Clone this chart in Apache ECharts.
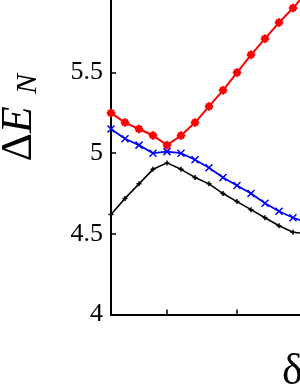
<!DOCTYPE html>
<html>
<head>
<meta charset="utf-8">
<script src="https://cdn.jsdelivr.net/npm/echarts@6/dist/echarts.min.js"></script>
<style>
html,body{margin:0;padding:0;background:#fff;}
#c{width:300px;height:388px;}
</style>
</head>
<body>
<div id="c"></div>
<script>
const deltaValues = [-0.8,-0.6,-0.4,-0.2,0.0,0.2,0.4,0.6,0.8,1.0,1.2,1.4,1.6,1.8,2.0];
const redValues   = [5.25,5.19,5.15,5.11,5.05,5.11,5.19,5.29,5.39,5.50,5.61,5.71,5.81,5.90,6.00];
const blueValues  = [5.15,5.09,5.05,5.00,5.01,5.00,4.96,4.91,4.85,4.80,4.75,4.69,4.64,4.60,4.57];
const blackValues = [4.62,4.72,4.81,4.90,4.94,4.90,4.85,4.81,4.75,4.70,4.65,4.60,4.55,4.51,4.50];
const xTickValues = [0, 1];
const yTickLabels = ['4','4.5','5','5.5'];

function pairs(ys){ return deltaValues.map((x,i)=>[x, ys[i]]); }

const serif = 'Liberation Serif';
const chart = echarts.init(document.getElementById('c'), null, {renderer:'canvas'});
chart.setOption({
  animation:false,
  backgroundColor:'#fff',
  textStyle:{fontFamily:serif},
  grid:{left:111, right:0, top:0, bottom:73.5, containLabel:false},
  xAxis:{
    type:'value', min:-0.8, max:1.9,
    axisLine:{show:true, lineStyle:{color:'#000', width:2}},
    axisTick:{show:true, inside:true, length:5, lineStyle:{color:'#000', width:1.5}, customValues:xTickValues},
    axisLabel:{show:false},
    splitLine:{show:false}
  },
  yAxis:{
    type:'value', min:4, max:5.95, interval:0.5,
    axisLine:{show:true, onZero:false, lineStyle:{color:'#000', width:2}},
    axisTick:{show:true, inside:true, length:5, lineStyle:{color:'#000', width:1.5}},
    axisLabel:{
      show:true, margin:8, color:'#000', fontFamily:serif, fontSize:26,
      showMaxLabel:false,
      formatter:function(v){ const s = String(v); return yTickLabels.indexOf(s) >= 0 ? s : ''; }
    },
    splitLine:{show:false}
  },
  series:[
    {
      type:'line', data:pairs(redValues), clip:true,
      lineStyle:{color:'#ff0000', width:2},
      symbol:'path://M-1,-4 L1,-4 L1,-3 L3,-3 L3,-1 L4,-1 L4,1 L3,1 L3,3 L1,3 L1,4 L-1,4 L-1,3 L-3,3 L-3,1 L-4,1 L-4,-1 L-3,-1 L-3,-3 L-1,-3 Z',
      symbolSize:8,
      itemStyle:{color:'#ff0000', borderColor:'#ff0000', borderWidth:0.5},
      emphasis:{disabled:true}
    },
    {
      type:'line', data:pairs(blueValues), clip:true,
      lineStyle:{color:'#0000ff', width:1.8},
      symbol:'path://M0,0 L10,10 M10,0 L0,10',
      symbolSize:7,
      itemStyle:{color:'#0000ff', borderColor:'#0000ff', borderWidth:1.5},
      emphasis:{disabled:true}
    },
    {
      type:'line', data:pairs(blackValues), clip:true,
      lineStyle:{color:'#000', width:1.6},
      symbol:'path://M5,0 L5,10 M0,5 L10,5',
      symbolSize:5,
      itemStyle:{color:'#000', borderColor:'#000', borderWidth:1.5},
      emphasis:{disabled:true}
    }
  ],
  graphic:[
    {
      type:'text', x:19, y:134, rotation:Math.PI/2,
      style:{
        text:'{d|Δ}{e|E}',
        align:'center', verticalAlign:'middle',
        rich:{
          d:{fontFamily:serif, fontSize:44, fill:'#000'},
          e:{fontFamily:serif, fontSize:44, fontStyle:'italic', fill:'#000'}
        }
      }
    },
    {
      type:'text', x:28, y:84, rotation:Math.PI/2,
      style:{
        text:'N', align:'center', verticalAlign:'middle',
        fontFamily:serif, fontSize:30, fontStyle:'italic', fill:'#000'
      }
    },
    {
      type:'text', x:282, y:372,
      style:{
        text:'δ', align:'left', verticalAlign:'middle',
        fontFamily:serif, fontSize:44, fill:'#000'
      }
    }
  ]
});
</script>
</body>
</html>
